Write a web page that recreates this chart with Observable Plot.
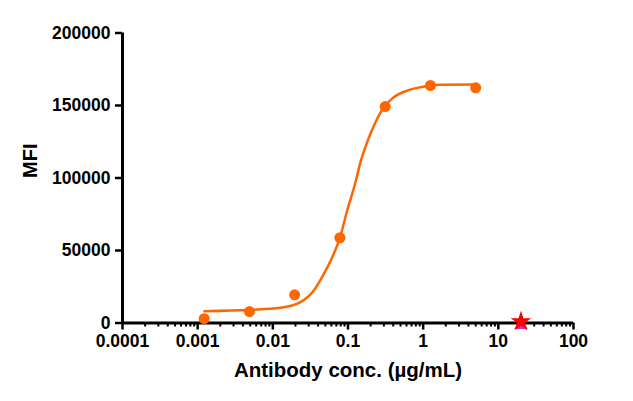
<!DOCTYPE html>
<html>
<head>
<meta charset="utf-8">
<script src="https://cdn.jsdelivr.net/npm/d3@7"></script>
<script src="https://cdn.jsdelivr.net/npm/@observablehq/plot@0.6"></script>
<style>
  html, body { margin: 0; padding: 0; background: #fff; }
  svg { font-family: "Liberation Sans", Arial, sans-serif; font-weight: bold; }
</style>
</head>
<body>
<div id="chart"></div>
<script>
// Measured points (concentration µg/mL, MFI)
const conc = [0.00122, 0.00488, 0.0195, 0.078, 0.3125, 1.25, 5];
const mfi = [3000, 7900, 19400, 58800, 149300, 163800, 162200];

// Fitted curve
const curveConc = [0.00123, 0.00505, 0.01265, 0.0233, 0.0351, 0.0477, 0.0617, 0.0778, 0.0975, 0.1258, 0.1466, 0.1798, 0.2323, 0.2992, 0.4064, 0.612, 0.920, 1.25, 1.70, 5];
const curveMfi  = [8100, 9100, 10500, 14400, 22400, 33900, 45400, 58500, 77600, 97100, 110900, 124700, 138500, 148800, 155700, 160300, 162600, 163800, 164300, 164500];

// Control (star over triangle)
const ctrlConc = [20];
const ctrlMfi = [0];

const xMajor = [0.0001, 0.001, 0.01, 0.1, 1, 10, 100];
const xTickLabels = ["0.0001", "0.001", "0.01", "0.1", "1", "10", "100"];
const yTicks = [0, 50000, 100000, 150000, 200000];
const yTickLabels = ["0", "50000", "100000", "150000", "200000"];

const xMinor = [];
for (let k = 0; k < xMajor.length - 1; k++) {
  for (let m = 2; m <= 9; m++) xMinor.push(xMajor[k] * m);
}

const points = conc.map((c, i) => ({c, v: mfi[i]}));
const curve = curveConc.map((c, i) => ({c, v: curveMfi[i]}));
const ctrl = ctrlConc.map((c, i) => ({c, v: ctrlMfi[i]}));

const orange = "#FF6600";

const chart = Plot.plot({
  width: 633,
  height: 401,
  marginLeft: 122,
  marginRight: 60,
  marginTop: 32.5,
  marginBottom: 78.5,
  style: {fontFamily: "'Liberation Sans', Arial, sans-serif", fontWeight: "bold", background: "white", color: "black"},
  x: {type: "log", domain: [0.0001, 100], axis: null},
  y: {domain: [0, 200000], axis: null},
  marks: [
    Plot.axisX(xMinor, {tickSize: 4, strokeWidth: 2, tickFormat: () => "", label: null}),
    Plot.axisX(xMajor, {tickSize: 7, strokeWidth: 2.5, tickPadding: 5, fontSize: 17.5, fontWeight: "bold",
      tickFormat: d => xTickLabels[xMajor.indexOf(d)], label: null}),
    Plot.axisY(yTicks, {tickSize: 7, strokeWidth: 2.5, tickPadding: 5, fontSize: 17.5, fontWeight: "bold",
      tickFormat: d => yTickLabels[yTicks.indexOf(d)], label: null}),
    Plot.ruleY([0], {strokeWidth: 3, stroke: "black"}),
    Plot.ruleX([0.0001], {strokeWidth: 3, stroke: "black"}),
    Plot.line(curve, {x: "c", y: "v", stroke: orange, strokeWidth: 2.5, curve: "monotone-x"}),
    Plot.dot(points, {x: "c", y: "v", r: 5.5, fill: orange, stroke: "none"}),
    Plot.dot(ctrl, {x: "c", y: "v", symbol: "triangle", r: 5, fill: "#CC33CC", stroke: "none", dy: 2}),
    Plot.dot(ctrl, {x: "c", y: "v", symbol: "star", r: 6.5, fill: "#FF0000", stroke: "none", dy: -1.5}),
    Plot.text(["Antibody conc. (µg/mL)"], {frameAnchor: "bottom", lineAnchor: "middle", dy: 47.5, fontSize: 20.5, fontWeight: "bold", fill: "black"}),
    Plot.text(["MFI"], {frameAnchor: "left", lineAnchor: "middle", rotate: -90, dx: -92, fontSize: 20, fontWeight: "bold", fill: "black"})
  ]
});
document.getElementById("chart").appendChild(chart);
</script>
</body>
</html>
